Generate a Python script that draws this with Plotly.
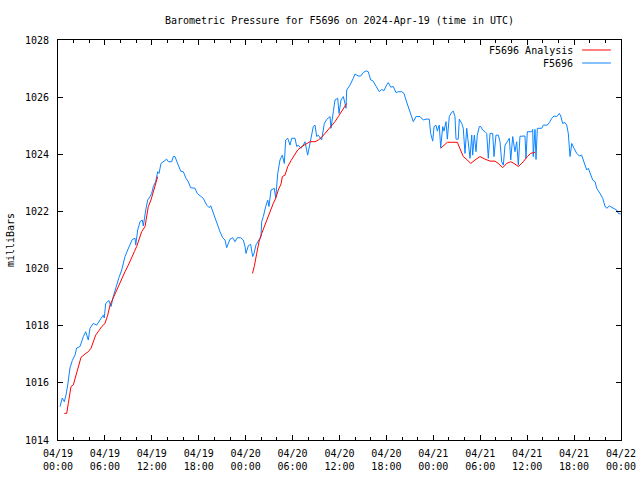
import plotly.graph_objects as go

# ---- data (hours since 2024-04-19 00:00 UTC, pressure in mbar) ----
station_hours = [0.26, 0.55, 0.81, 1.02, 1.24, 1.53, 1.83, 2.17, 2.39, 2.81, 3.24, 3.54, 3.88, 4.09, 4.51, 4.95,
    5.37, 5.79, 5.92, 6.10, 6.52, 6.78, 7.07, 7.51, 7.80, 8.15, 8.57, 8.91, 9.21, 9.50, 9.85, 9.94,
    10.19, 10.49, 10.78, 10.91, 11.22, 11.47, 11.77, 11.98, 12.19, 12.49, 12.75, 12.92, 13.17, 13.68,
    13.90, 14.11, 14.54, 14.75, 14.96, 15.18, 15.38, 15.69, 16.02, 16.37, 16.66, 16.97, 17.52, 17.81,
    18.16, 18.58, 19.02, 19.35, 19.53, 19.86, 20.30, 20.72, 21.06, 21.36, 21.57, 22.00, 22.34, 22.64,
    22.93, 23.37, 23.70, 23.92, 24.04, 24.34, 24.64, 24.90, 25.07, 25.32, 25.74, 25.96, 26.05, 26.26,
    26.56, 26.82, 26.98, 27.24, 27.66, 27.84, 28.10, 28.39, 28.69, 28.94, 29.12, 29.38, 29.67, 29.89,
    30.31, 30.53, 30.73, 31.08, 31.37, 31.59, 31.93, 32.23, 32.65, 32.87, 33.08, 33.29, 33.72, 34.06,
    34.36, 34.79, 34.91, 35.21, 35.42, 35.77, 35.94, 36.19, 36.49, 36.70, 36.83, 36.92, 37.34, 37.76,
    37.98, 38.40, 38.71, 39.04, 39.39, 39.68, 39.99, 40.25, 40.54, 40.83, 41.09, 41.40, 41.69, 42.04,
    42.24, 42.55, 42.88, 43.23, 43.52, 43.96, 44.25, 44.50, 44.80, 45.11, 45.44, 45.78, 46.30, 46.72,
    47.06, 47.48, 47.66, 47.92, 48.09, 48.34, 48.51, 48.76, 48.94, 49.20, 49.36, 49.62, 49.79, 50.04,
    50.35, 50.55, 50.77, 50.90, 51.19, 51.32, 51.63, 51.83, 52.05, 52.27, 52.47, 52.69, 52.91, 53.03,
    53.24, 53.46, 53.62, 53.88, 54.06, 54.31, 54.61, 54.83, 55.03, 55.25, 55.59, 55.76, 56.01, 56.31,
    56.53, 56.74, 56.95, 57.17, 57.46, 57.72, 57.90, 58.15, 58.44, 58.66, 58.87, 59.08, 59.72, 59.85,
    60.02, 60.58, 60.71, 60.78, 61.00, 61.13, 61.30, 61.86, 62.06, 62.58, 62.83, 63.14, 63.43, 63.78,
    64.11, 64.29, 64.54, 64.84, 65.06, 65.26, 65.48, 65.70, 65.99, 66.34, 66.67, 66.97, 67.18, 67.40,
    67.61, 67.82, 68.12, 68.38, 68.68, 68.89, 69.31, 69.66, 69.95, 70.17, 70.51, 70.81, 71.10, 71.45,
    71.66, 71.96]
station_mbar = [1015.17, 1015.47, 1015.34, 1015.57, 1015.92, 1016.52, 1016.78, 1016.97, 1017.22, 1017.27,
    1017.62, 1017.79, 1017.50, 1017.91, 1018.08, 1018.02, 1018.20, 1018.37, 1018.27, 1018.78, 1018.88,
    1018.67, 1019.02, 1019.48, 1019.69, 1019.95, 1020.42, 1020.65, 1020.82, 1021.02, 1021.06, 1020.82,
    1021.35, 1021.64, 1021.70, 1021.49, 1022.05, 1022.40, 1022.52, 1022.63, 1022.87, 1023.04, 1023.39,
    1023.33, 1023.68, 1023.80, 1023.83, 1023.74, 1023.74, 1023.92, 1023.92, 1023.76, 1023.62, 1023.41,
    1023.39, 1023.16, 1023.04, 1022.83, 1022.81, 1022.63, 1022.55, 1022.46, 1022.22, 1022.13, 1022.20,
    1021.93, 1021.64, 1021.29, 1021.08, 1021.00, 1020.73, 1021.03, 1021.08, 1020.94, 1021.08, 1021.08,
    1021.00, 1020.77, 1020.53, 1020.80, 1020.85, 1020.42, 1020.53, 1020.83, 1021.02, 1021.12, 1021.64,
    1021.82, 1022.17, 1022.40, 1022.17, 1022.75, 1022.81, 1022.46, 1023.33, 1023.80, 1023.97, 1023.68,
    1024.50, 1024.56, 1024.32, 1024.56, 1024.56, 1024.27, 1024.32, 1024.21, 1024.32, 1024.44, 1023.97,
    1024.38, 1024.97, 1025.02, 1024.62, 1024.67, 1024.50, 1025.08, 1025.22, 1025.32, 1024.91, 1025.49,
    1025.90, 1025.96, 1025.43, 1025.90, 1026.02, 1025.78, 1025.61, 1026.25, 1026.42, 1026.66, 1026.81,
    1026.74, 1026.74, 1026.86, 1026.92, 1026.89, 1026.60, 1026.58, 1026.46, 1026.31, 1026.19, 1026.27,
    1026.23, 1026.43, 1026.51, 1026.35, 1026.37, 1026.16, 1026.19, 1026.19, 1026.13, 1025.90, 1025.67,
    1025.43, 1025.14, 1025.32, 1025.32, 1025.20, 1025.23, 1025.23, 1024.73, 1024.46, 1024.97, 1025.02,
    1024.81, 1025.02, 1024.23, 1024.97, 1024.81, 1025.14, 1024.53, 1025.32, 1025.47, 1025.51, 1025.32,
    1024.53, 1024.53, 1025.23, 1025.08, 1024.91, 1024.03, 1024.91, 1024.38, 1023.86, 1024.67, 1023.97,
    1024.67, 1024.09, 1024.67, 1024.97, 1024.97, 1024.85, 1024.79, 1024.73, 1023.86, 1024.73, 1024.73,
    1023.92, 1024.67, 1024.67, 1024.44, 1023.74, 1023.62, 1024.32, 1024.44, 1024.56, 1023.80, 1024.62,
    1024.09, 1024.44, 1023.62, 1024.63, 1024.64, 1023.86, 1024.79, 1024.79, 1024.87, 1023.92, 1024.87,
    1023.82, 1024.91, 1024.91, 1025.02, 1025.02, 1025.11, 1025.26, 1025.34, 1025.32, 1025.43, 1025.34,
    1025.08, 1025.11, 1025.02, 1024.73, 1023.92, 1024.38, 1024.21, 1024.03, 1023.94, 1023.97, 1023.80,
    1023.57, 1023.45, 1023.51, 1023.27, 1023.10, 1023.04, 1022.81, 1022.63, 1022.46, 1022.19, 1022.11,
    1022.19, 1022.14, 1022.11, 1022.05, 1021.93, 1021.91]

analysis_hours = [0.81, 1.11, 1.32, 1.66, 1.96, 2.26, 2.60, 2.94, 3.45, 3.88, 4.22, 4.51, 4.82, 5.24, 5.59,
    6.01, 6.36, 6.65, 6.94, 7.29, 7.71, 8.15, 8.57, 8.99, 9.34, 9.76, 10.06, 10.36, 10.70, 11.13, 11.34,
    11.55, 11.89, 12.19, 12.49, 12.75, None,
    24.87, 25.10, 25.41, 25.71, 26.05, 26.38, 26.69, 26.98, 27.24, 27.53, 27.84, 28.17, 28.52, 28.69,
    29.03, 29.38, 29.80, 30.22, 30.65, 31.17, 31.68, 32.23, 32.87, 33.29, 33.80, 34.36, 34.91, 35.42,
    35.85, 36.28, 36.70, 36.92, None,
    48.94, 49.79, 51.07, 51.41, 51.83, 52.35, 52.78, 53.33, 53.97, 54.61, 55.25, 55.89, 56.31, 56.87,
    57.38, 57.90, 58.32, 58.87, 59.51, 60.02, 60.45, 61.00]
analysis_mbar = [1014.93, 1014.93, 1015.28, 1015.87, 1015.93, 1016.22, 1016.57, 1016.89, 1017.01, 1017.09,
    1017.21, 1017.44, 1017.67, 1017.83, 1017.97, 1018.08, 1018.37, 1018.72, 1018.90, 1019.16, 1019.42,
    1019.66, 1019.89, 1020.12, 1020.36, 1020.59, 1020.77, 1021.00, 1021.29, 1021.47, 1021.82, 1022.17,
    1022.40, 1022.69, 1022.98, 1023.22, None,
    1019.83, 1020.07, 1020.53, 1020.94, 1021.23, 1021.47, 1021.70, 1021.87, 1022.05, 1022.28, 1022.46,
    1022.75, 1022.96, 1023.22, 1023.27, 1023.57, 1023.78, 1023.97, 1024.15, 1024.27, 1024.36, 1024.44,
    1024.44, 1024.50, 1024.62, 1024.79, 1024.97, 1025.14, 1025.32, 1025.49, 1025.67, 1025.78, None,
    1024.21, 1024.42, 1024.42, 1024.21, 1023.92, 1023.80, 1023.68, 1023.80, 1023.92, 1023.83, 1023.76,
    1023.76, 1023.68, 1023.53, 1023.68, 1023.74, 1023.68, 1023.57, 1023.74, 1023.92, 1024.03, 1024.07]

x_tick_hours = [0, 6, 12, 18, 24, 30, 36, 42, 48, 54, 60, 66, 72]
x_tick_labels = ["04/19<br>00:00", "04/19<br>06:00", "04/19<br>12:00", "04/19<br>18:00",
                 "04/20<br>00:00", "04/20<br>06:00", "04/20<br>12:00", "04/20<br>18:00",
                 "04/21<br>00:00", "04/21<br>06:00", "04/21<br>12:00", "04/21<br>18:00",
                 "04/22<br>00:00"]
y_ticks = [1014, 1016, 1018, 1020, 1022, 1024, 1026, 1028]

RED = "#ff0000"
BLUE = "#0a84ff"
FONT = "DejaVu Sans Mono"

fig = go.Figure()
fig.add_trace(go.Scatter(x=station_hours, y=station_mbar, mode="lines", name="F5696",
                         line=dict(color=BLUE, width=1), showlegend=False))
fig.add_trace(go.Scatter(x=analysis_hours, y=analysis_mbar, mode="lines", name="F5696 Analysis",
                         line=dict(color=RED, width=1), connectgaps=False, showlegend=False))

axis_common = dict(showgrid=False, zeroline=False, showline=True, linecolor="black", linewidth=1,
                   mirror="ticks", ticks="inside", tickcolor="black", ticklen=5, tickwidth=1,
                   automargin=False,
                   tickfont=dict(family=FONT, size=10, color="black"))

fig.update_xaxes(range=[0, 72], tickmode="array", tickvals=x_tick_hours, ticktext=x_tick_labels,
                 minor=dict(ticks="inside", dtick=2, ticklen=3, tickcolor="black", showgrid=False),
                 ticklabelstandoff=4, **axis_common)
fig.update_yaxes(range=[1014, 1028], tickmode="array", tickvals=y_ticks,
                 ticktext=[str(v) for v in y_ticks], ticklabelstandoff=6,
                 title=dict(text="milliBars", font=dict(family=FONT, size=10, color="black"), standoff=8),
                 **axis_common)

# legend drawn like gnuplot's (text right, sample line after it)
legend_rows = [("F5696 Analysis", RED, 0.975), ("F5696", BLUE, 0.9425)]
for label, color, yy in legend_rows:
    fig.add_annotation(xref="paper", yref="paper", x=0.918, y=yy, text=label, showarrow=False,
                       xanchor="right", yanchor="middle", font=dict(family=FONT, size=10, color="black"))
    fig.add_shape(type="line", xref="paper", yref="paper", x0=0.931, x1=0.982, y0=yy, y1=yy,
                  line=dict(color=color, width=1))

fig.update_layout(
    width=640, height=480,
    margin=dict(l=58, r=19, t=40, b=40, autoexpand=False),
    paper_bgcolor="white", plot_bgcolor="white",
    title=dict(text="Barometric Pressure for F5696 on 2024-Apr-19 (time in UTC)",
               x=0.5305, xanchor="center", y=1 - 20 / 480, yanchor="middle", yref="container",
               font=dict(family=FONT, size=10, color="black")),
    font=dict(family=FONT, size=10, color="black"),
    hovermode=False,
)

fig.write_html("out.html", config={"displayModeBar": False, "staticPlot": True},
               post_script="document.body.style.margin='0';document.body.style.overflow='hidden';")
